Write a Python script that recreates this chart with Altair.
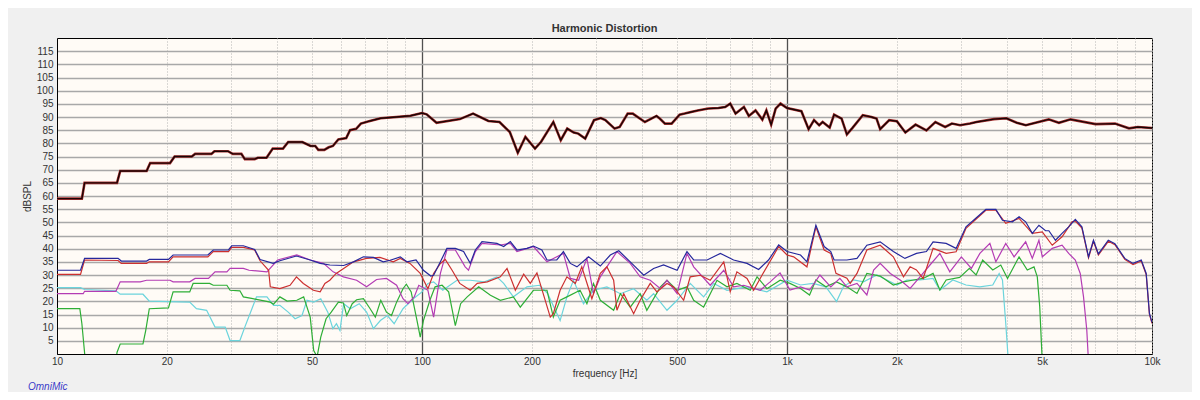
import altair as alt
import pandas as pd

# ---- data (frequency Hz, level dB) ----
spl = [(10, 59), (11.7, 59), (11.9, 65), (14.6, 65), (14.9, 69.5), (17.6, 69.5), (18.0, 72.5), (20.4, 72.5),
       (21.0, 75), (23.4, 75), (23.9, 76), (26.5, 76), (27, 77), (29.4, 77), (30.3, 76), (32.0, 76), (32.7, 74),
       (34.8, 74), (35.5, 74.5), (37.5, 74.5), (39, 78), (41.6, 78), (43, 80.5), (47, 80.5), (49.5, 79), (51, 79),
       (52, 77.5), (54, 77.5), (55.5, 78.5), (57, 79), (59, 81.5), (62, 82), (63.5, 85), (66, 85.5), (68, 87.5),
       (72, 88.5), (77, 89.5), (85, 90), (93, 90.5), (100, 91.5), (103, 91), (109.6, 87.8), (127, 89.2),
       (138, 91.3), (152, 88.5), (163, 88.1), (174, 84.3), (183, 76.4), (192, 82.4), (204, 78), (212, 80.6),
       (229, 88.1), (240, 81.2), (250, 85.6), (260.5, 84.1), (268, 83.7), (280, 81.8), (296, 88.8), (309, 89.6),
       (318, 88.8), (337, 85.6), (348, 86.2), (366, 91.3), (378, 91.3), (408, 88.1), (425, 89.4), (439, 90.4),
       (448, 89.4), (463, 87.5), (483, 87.5), (508, 90.9), (524, 91.3), (546, 91.9), (570, 92.5), (608, 93.2),
       (649, 93.4), (677, 93.8), (699, 95.1), (723, 91.3), (762, 93.8), (786, 90.4), (820, 92.5), (856, 89.0),
       (878, 92.5), (905, 87.1), (931, 93.2), (960, 95.1), (1000, 93.4), (1095, 92.2), (1146, 85.4),
       (1186, 88.8), (1225, 86.9), (1252, 88.1), (1309, 86), (1346, 90.9), (1411, 89.4), (1459, 83.4),
       (1512, 85.9), (1613, 90.7), (1703, 90), (1759, 89.4), (1800, 85.4), (1905, 88.8), (2000, 88.4),
       (2110, 84.1), (2250, 87.1), (2410, 84.9), (2550, 88.1), (2712, 86.2), (2830, 87.5), (2980, 86.9),
       (3170, 87.5), (3305, 88.1), (3690, 89.2), (3990, 89.5), (4262, 87.8), (4512, 86.9), (5213, 89.1),
       (5560, 87.8), (5981, 89.1), (7000, 87.3), (7920, 87.5), (8650, 85.7), (9140, 86.2), (10000, 85.8)]

blue = [(10, 31.8), (11.6, 31.8), (11.9, 36.3), (14.7, 36.3), (15.0, 35.3), (17.6, 35.3), (17.9, 35.9),
        (20.2, 35.9), (20.8, 37.6), (25.9, 37.6), (26.8, 39.5), (29.5, 39.5), (30.1, 41.1), (32.4, 41.1),
        (34.8, 39.7), (36.0, 35.9), (39.1, 34.4), (40.8, 35.4), (45.3, 37.2), (49.4, 35.7), (52.6, 34.4),
        (55.9, 33.8), (61, 33.6), (64.9, 35), (69.1, 36.9), (73.6, 36.7), (78.3, 35), (81.8, 35.6), (87.2, 36.9),
        (90.9, 35), (96.3, 35.7), (100.9, 31.8), (105.7, 29.6), (107.6, 29.9), (112.3, 35), (117, 40.1),
        (123.4, 40.1), (130, 38.9), (135.6, 34.4), (140, 39.5), (146, 42.7), (160.4, 42), (167.4, 40.8),
        (174.6, 42.7), (182, 39.5), (193.9, 40.1), (202, 41), (213, 39.5), (220, 35.7), (234, 35.7),
        (244, 38.9), (254.9, 34.4), (265.8, 33.1), (286, 36.9), (308, 33.4), (328, 37.6), (346, 39.2),
        (372, 35), (405, 29.9), (431, 32.5), (459, 33.8), (500, 31.8), (532, 38.9), (555, 35.7), (604, 35.7),
        (657, 38.2), (714, 35.7), (777, 34.4), (836, 32.1), (890, 35.7), (949, 41.4), (1000, 38.9),
        (1089, 37.6), (1134, 35), (1200, 48.9), (1264, 40.8), (1318, 38.9), (1346, 35.7), (1459, 35.7),
        (1555, 36.3), (1655, 41.3), (1800, 42.6), (1956, 38.9), (2104, 36.3), (2263, 38.2), (2410, 38.9),
        (2513, 42.6), (2729, 42), (2906, 40.1), (3093, 48.3), (3506, 54.9), (3734, 54.9), (3893, 50.8),
        (4145, 50.2), (4323, 52.1), (4507, 50.2), (4700, 45.8), (4900, 48.9), (5110, 46.8), (5217, 46.8),
        (5439, 43.2), (5670, 45.8), (5912, 48.3), (6164, 51.1), (6426, 48.3), (6700, 36.9), (6912, 43.2),
        (7130, 38), (7590, 43.2), (7913, 41.9), (8422, 36.3), (8872, 34.4), (9345, 35.7), (9640, 30.6),
        (9840, 15.4), (10000, 12)]

red = [(10, 30.2), (11.6, 30.2), (11.9, 35.7), (14.7, 35.5), (15.0, 34.4), (17.6, 34.4), (17.9, 35),
       (20.2, 35), (20.8, 36.9), (25.9, 36.9), (26.8, 38.9), (29.5, 38.9), (30.1, 40.5), (32.4, 40.5),
       (34.8, 39.5), (36.0, 35.4), (38.0, 31.8), (38.4, 25.5), (40.8, 24.8), (43.5, 26.1), (45.3, 29.3),
       (47.3, 26.8), (50.4, 24.2), (52.6, 23.6), (54.2, 26.8), (55.9, 28), (58.2, 30.6), (61, 32.5),
       (64.9, 35), (70.5, 36.3), (76.7, 36.7), (83.4, 35), (87.2, 36.3), (92.7, 34.4), (98.9, 30.6),
       (103.8, 24.8), (107.6, 30.6), (112.3, 34.4), (115.8, 35.9), (120.9, 31.8), (126.9, 26.8),
       (135.6, 24.2), (141.7, 26.8), (151, 27.4), (163.9, 29.3), (171, 32.5), (180.2, 24.2), (189.9, 30.3),
       (198, 26.8), (206.5, 30.8), (224.6, 14), (229, 15.3), (239, 24.2), (249.5, 29.3), (263, 26.8),
       (274, 33.1), (292, 21), (308, 30.6), (321, 33.1), (335, 28), (342, 16.6), (357, 22.9), (380, 15.3),
       (396, 20.4), (422, 26.8), (440, 23.6), (469, 26.8), (489, 25.5), (521, 20.4), (543, 29.3),
       (579, 29.9), (616, 28), (671, 35), (699, 23.6), (729, 31.2), (777, 28.7), (810, 24.2), (854, 29.9),
       (949, 40.8), (1000, 37.6), (1043, 36.9), (1134, 33.1), (1200, 48.3), (1264, 39.5), (1318, 38.2),
       (1362, 30.6), (1459, 28.8), (1490, 26.8), (1555, 30.6), (1655, 39.5), (1800, 41.3), (1956, 36.9),
       (2085, 29.3), (2174, 33.1), (2263, 31.9), (2360, 28.7), (2513, 40.1), (2729, 38.2), (2906, 38.8),
       (3093, 47.7), (3506, 54.6), (3734, 54.6), (3975, 49.6), (4323, 51.5), (4700, 45.8), (5005, 46.4),
       (5330, 41.3), (5670, 44.5), (6040, 50.2), (6164, 50.5), (6426, 47.8), (6700, 36.5), (6912, 42.8),
       (7130, 37.6), (7590, 42.8), (7913, 41.5), (8422, 36), (8872, 34), (9345, 35.3), (9640, 30.2),
       (9840, 15), (10000, 11.6)]

magenta = [(10, 22.9), (11.8, 22.9), (11.9, 23.8), (14.5, 23.8), (14.9, 27.4), (16.9, 27.4), (17.6, 28),
           (20.4, 28), (20.8, 27.4), (23.1, 27.4), (23.9, 28.7), (26, 28.7), (27.1, 31.2), (29.2, 31.2),
           (29.8, 32.5), (32.4, 32.5), (33.6, 31.8), (37.6, 31.2), (40.2, 35.7), (45.4, 37.6), (49.4, 35.7),
           (53.7, 34.4), (57.1, 31.2), (60.9, 29.3), (66.2, 28), (70.5, 25.5), (75.1, 28.3), (79.9, 28.7),
           (85.2, 26.1), (88.7, 21), (91.5, 19.1), (95.2, 21.7), (98, 26.1), (103.8, 24.2), (107.6, 14),
           (112.3, 30.6), (117, 39.5), (123.4, 39.5), (131.3, 33.1), (134.1, 31.8), (140, 38.9), (146, 42),
           (163.9, 41.4), (174.6, 42), (182, 38.9), (202, 40.8), (220, 35), (244, 38.2), (254.9, 28.7),
           (268.6, 28), (283, 36.3), (295, 22.9), (308, 29.3), (342, 38.9), (372, 34.4), (396, 29.3),
           (422, 28), (450, 24.8), (469, 28), (500, 22.9), (532, 38.2), (555, 33.1), (616, 26.1), (671, 31.8),
           (714, 25.5), (761, 26.1), (845, 24.2), (899, 27.4), (957, 30.8), (1019, 24.3), (1089, 25.5),
           (1153, 24.3), (1231, 30), (1318, 25.5), (1396, 28.7), (1459, 25.5), (1555, 26.8), (1655, 22.4),
           (1727, 31.9), (1800, 34.4), (1919, 30.6), (2042, 28.1), (2174, 24.9), (2314, 29.3), (2464, 33.8),
           (2623, 38.2), (2793, 31.2), (3004, 36.9), (3200, 32.5), (3376, 38.2), (3596, 42), (3734, 35),
           (3975, 42), (4189, 36.9), (4507, 42.6), (4700, 36.3), (4900, 43.2), (5005, 36.9), (5330, 40.1),
           (5670, 41.3), (5912, 38.2), (6164, 35.7), (6359, 30.6), (6491, 21.8), (6627, 9.1), (6700, -3)]

green = [(10, 17.2), (11.55, 17.2), (11.7, 11.5), (11.9, 0.5), (12.0, -5), (14.5, -5), (14.6, 0.6),
         (14.9, 3.8), (17.2, 3.8), (17.5, 8.9), (17.9, 17.2), (20.2, 17.5), (20.8, 23.6), (23.1, 23.6),
         (23.6, 26.8), (26.2, 26.8), (26.8, 26.1), (29.2, 26.1), (29.8, 24.2), (31.7, 24), (32.4, 21.7),
         (34.4, 21), (38.4, 19.7), (39.2, 18.9), (40.8, 21.7), (42.7, 20.1), (45.4, 20.4), (47.4, 21.7),
         (49.4, 14), (50.5, 1.3), (51.6, -1), (52.8, 6.4), (54.6, 13.4), (56.4, 15.9), (59, 19.7), (60.9, 19.4),
         (62.2, 14.6), (64.4, 19.1), (66.2, 20.6), (69.1, 21), (72.1, 17.2), (74.5, 14), (77.1, 20.4),
         (79.9, 15.9), (82.5, 14.6), (85.2, 19.7), (88.7, 24.8), (90.6, 26.5), (93.4, 23.6), (96.9, 12.7),
         (98.9, 6.4), (100.9, 12.7), (105.1, 20.4), (108.6, 25.5), (113.5, 26.1), (118.3, 23.6), (123.4, 10.8),
         (127.6, 19.1), (133, 21.7), (143, 25.5), (154, 22.3), (163.9, 20.4), (178, 21.7), (185.9, 17.8),
         (202, 24.2), (220, 24.2), (229, 14), (239, 20.4), (249.5, 21.7), (271, 24.2), (283, 19.1),
         (295, 26.8), (308, 20.4), (335, 16.6), (349.5, 22.9), (372, 17.8), (396, 22.9), (413, 16.6),
         (450, 25.5), (469, 28), (500, 24.2), (532, 25.5), (555, 20.4), (591, 17.8), (643, 28), (685, 25.5),
         (729, 26.8), (793, 24.2), (828, 29.3), (881, 24.8), (958, 28), (1019, 26.8), (1089, 24.9),
         (1153, 22.4), (1200, 28.1), (1278, 25.5), (1367, 27.4), (1459, 25.5), (1555, 23), (1655, 30.6),
         (1800, 29.6), (1956, 26.2), (2085, 27.4), (2222, 28.1), (2360, 28.7), (2513, 30.6), (2623, 24.3),
         (2729, 28.1), (2972, 29.1), (3161, 32.5), (3297, 30), (3436, 35.7), (3662, 31.9), (3852, 33.8),
         (4020, 28.7), (4323, 36.9), (4553, 31.9), (4750, 33.1), (4850, 29.3), (4925, 18), (5005, -3)]

cyan = [(10, 25.2), (11.6, 25.2), (11.9, 24.5), (14.5, 24), (14.9, 22.7), (17.2, 22.7), (17.9, 20.1),
        (23.1, 19.7), (24.1, 17.2), (25.7, 16.6), (27.1, 10.2), (28.9, 10.2), (29.8, 5.1), (31.7, 5.1),
        (32.7, 10.2), (34.2, 17.2), (35.2, 21.7), (37.6, 21.7), (39.2, 18.5), (40.8, 18.5), (43, 15.9),
        (44.9, 13.4), (46.9, 14.6), (48.4, 20.4), (50.5, 19.7), (52.8, 21), (55.2, 15.9), (57, 9.6),
        (58.3, 11.5), (59.6, 8.9), (61, 19.1), (63.6, 17.2), (67.3, 19.1), (70.5, 15.9), (73.6, 9.6),
        (76.9, 12.7), (80.4, 14.6), (83.9, 11.5), (88.7, 17.2), (94.7, 21), (100, 23.6), (103.8, 26.8),
        (107.6, 27.4), (114, 24.2), (124.7, 28), (135.6, 28), (148.3, 27.4), (160.4, 29.3), (167.4, 26.8),
        (178, 21.7), (193.9, 25.5), (210, 26.1), (221, 22.9), (239, 12.7), (249.5, 21.7), (260, 28),
        (277, 19.1), (295, 24.2), (321, 25.5), (349.5, 22.9), (380, 24.8), (413, 20.4), (431, 22.9),
        (469, 16.6), (500, 20.4), (543, 26.8), (591, 21.7), (630, 26.8), (685, 24.2), (777, 25.5),
        (881, 23.6), (1000, 28), (1089, 26.2), (1179, 26.8), (1278, 25.5), (1367, 19.9), (1427, 25.5),
        (1521, 28.1), (1621, 27.4), (1763, 30), (1878, 28.1), (2000, 26.2), (2130, 28.1), (2314, 28.1),
        (2513, 28.7), (2623, 24.3), (2846, 28.1), (3093, 26.2), (3376, 25.5), (3662, 26.2), (3813, 30.6),
        (3893, 28.1), (3975, 11.6), (4042, -3)]

x_grid_values = [10, 20, 30, 40, 50, 60, 70, 80, 90, 100, 200, 300, 400, 500, 600, 700, 800, 900,
                 1000, 2000, 3000, 4000, 5000, 6000, 7000, 8000, 9000, 10000]
x_label_values = [10, 20, 50, 100, 200, 500, 1000, 2000, 5000, 10000]
y_values = [5, 10, 15, 20, 25, 30, 35, 40, 45, 50, 55, 60, 65, 70, 75, 80, 85, 90, 95, 100, 105, 110, 115]

FONT = "Liberation Sans"

x_scale = alt.Scale(type="log", domain=[10, 10000], nice=False)
y_scale = alt.Scale(domain=[0, 120], nice=False, zero=False)

label_list = "[" + ",".join(str(v) for v in x_label_values) + "]"
MAJOR = "datum.value == 100 || datum.value == 1000"
x_axis = alt.Axis(
    values=x_grid_values,
    labelExpr=f"indexof({label_list}, datum.value) >= 0 ? (datum.value >= 1000 ? (datum.value / 1000) + 'k' : datum.value + '') : ''",
    title="frequency [Hz]",
    ticks=False, labelFlush=False, labelOverlap=False, labelBound=False,
    grid=True,
    gridColor={"condition": {"test": MAJOR, "value": "#505050"}, "value": "#b4b4b4"},
    gridDash={"condition": {"test": MAJOR, "value": []}, "value": [1, 2]},
    gridWidth={"condition": {"test": MAJOR, "value": 1.3}, "value": 1},
    labelPadding=2, titlePadding=2,
    domainColor="#000", labelColor="#333", titleColor="#333",
    labelFontSize=10, titleFontSize=10, titleFontWeight="normal", labelFont=FONT, titleFont=FONT,
)
y_axis = alt.Axis(
    values=y_values, title="dBSPL", ticks=False, grid=True, gridColor="#a8a8a8", gridWidth=1.6,
    labelPadding=4, titlePadding=4, domainColor="#000", labelColor="#333", titleColor="#333",
    labelFontSize=10, titleFontSize=10, titleFontWeight="normal", labelFont=FONT, titleFont=FONT,
    labelOverlap=False, labelFlush=False,
)


def frame(pairs):
    return pd.DataFrame(pairs, columns=["f", "db"])


def line(pairs, color, width):
    return alt.Chart(frame(pairs)).mark_line(color=color, strokeWidth=width, clip=True).encode(
        x=alt.X("f:Q", scale=x_scale, axis=x_axis),
        y=alt.Y("db:Q", scale=y_scale, axis=y_axis),
        order="f:Q",
    )


layers = [
    line(cyan, "#6cd4dc", 1.2),
    line(green, "#2eae36", 1.2),
    line(magenta, "#b43cb4", 1.2),
    line(red, "#cc3030", 1.2),
    line(blue, "#26289c", 1.2),
    line(spl, "#a83030", 2.6),
    line(spl, "#1a0505", 1.4),
]

brand = alt.Chart(pd.DataFrame({"t": ["OmniMic"]})).mark_text(
    align="left", baseline="middle", fontStyle="italic", fontSize=10, font=FONT, color="#3a3ac8"
).encode(x=alt.value(-29), y=alt.value(349), text="t:N")

chart = alt.layer(*layers, brand).properties(
    width=1095, height=316,
    title=alt.TitleParams("Harmonic Distortion", fontSize=11, fontWeight="bold", font=FONT,
                          color="#333", anchor="middle", offset=4),
    background="#f0f0f0",
    padding={"left": 49, "top": 30, "right": 40, "bottom": 38},
    autosize=alt.AutoSizeParams(type="none"),
).configure_view(fill="#fffbf6", stroke="#000", strokeWidth=1)

chart.save("out.html", embed_options={"renderer": "svg", "actions": False})
